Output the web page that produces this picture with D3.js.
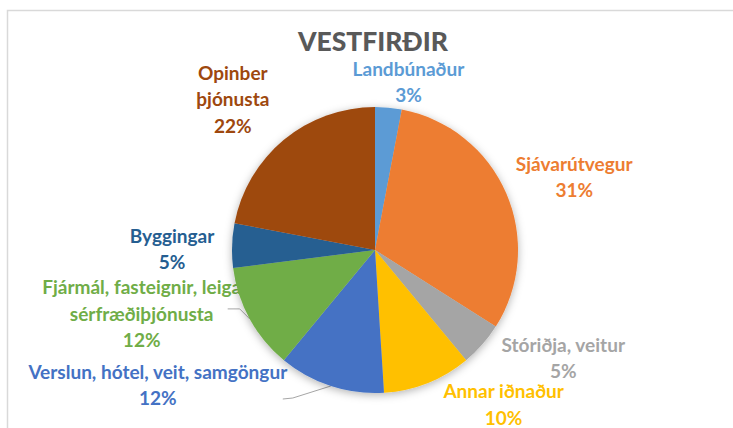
<!DOCTYPE html>
<html>
<head>
<meta charset="utf-8">
<script src="https://cdn.jsdelivr.net/npm/d3@7"></script>
<style>
  body { margin: 0; background: #fff; }
  svg { display: block; }
</style>
</head>
<body>
<svg id="chart" width="733" height="428"></svg>
<script>
// data
var categories = ["Landbúnaður", "Sjávarútvegur", "Stóriðja, veitur", "Annar iðnaður",
  "Verslun, hótel, veit, samgöngur", "Fjármál, fasteignir, leiga, sérfræðiþjónusta",
  "Byggingar", "Opinber þjónusta"];
var shares = [3, 31, 5, 10, 12, 12, 5, 22];
var colors = ["#5B9BD5", "#ED7D31", "#A5A5A5", "#FFC000", "#4472C4", "#70AD47", "#255E91", "#9E480E"];
var labelLines = [
  ["Landbúnaður"], ["Sjávarútvegur"], ["Stóriðja, veitur"], ["Annar iðnaður"],
  ["Verslun, hótel, veit, samgöngur"], ["Fjármál, fasteignir, leiga", "sérfræðiþjónusta"],
  ["Byggingar"], ["Opinber", "þjónusta"]
];
var title = "VESTFIRÐIR";

// label placement, offset from the outer edge of each slice's mid angle
var labelOffset = [[20, -25], [68, -16], [81, 14], [76, 22], [-173, -1], [-108, -5], [-60, 4], [-51, -40]];
var leaders = {4: [[125, 14], [135, 13]], 5: [[86, -5], [98, -5]]};

var svg = d3.select("#chart"),
    cx = 375, cy = 250, r = 143,
    font = "Lato, 'Open Sans', sans-serif";

var defs = svg.append("defs");
var f = defs.append("filter").attr("id", "shadow")
    .attr("x", "-20%").attr("y", "-20%").attr("width", "140%").attr("height", "140%");
f.append("feDropShadow").attr("dx", 0).attr("dy", 2).attr("stdDeviation", 4)
    .attr("flood-color", "#000").attr("flood-opacity", 0.3);

// frame
svg.append("path")
    .attr("d", "M7.5,428V10.5H733")
    .attr("fill", "none")
    .attr("stroke", "#d9d9d9")
    .attr("stroke-width", 1.5);

// size fonts so text widths match the picture
function fitSize(txt, target, base, weight) {
  var t = svg.append("text").style("font", weight + " " + base + "px " + font).text(txt);
  var w = t.node().getComputedTextLength();
  t.remove();
  return base * target / w;
}
var labelSize = fitSize("Verslun, hótel, veit, samgöngur", 259, 16, 700);
var titleSize = fitSize(title, 150, 26, 900);

svg.append("text")
    .attr("x", 373).attr("y", 51)
    .attr("text-anchor", "middle")
    .style("font", "900 " + titleSize + "px " + font)
    .attr("fill", "#595959")
    .text(title);

var pie = d3.pie().sort(null).value(function(d) { return d; });
var arcs = pie(shares);
var arc = d3.arc().innerRadius(0).outerRadius(r);

function edgePoint(d) {
  var a = (d.startAngle + d.endAngle) / 2;
  return [cx + r * Math.sin(a), cy - r * Math.cos(a)];
}

var lh = labelSize * 1.38;
var g = svg.append("g");

arcs.forEach(function(d, i) {
  var p = edgePoint(d),
      lx = p[0] + labelOffset[i][0],
      ly = p[1] + labelOffset[i][1];
  var lines = labelLines[i].concat([d.data + "%"]);
  var t = g.append("text")
      .attr("text-anchor", "middle")
      .style("font", "700 " + labelSize + "px " + font)
      .attr("fill", colors[i]);
  lines.forEach(function(s, k) {
    t.append("tspan")
        .attr("x", lx)
        .attr("y", ly + (k - (lines.length - 1) / 2) * lh)
        .attr("dy", "0.35em")
        .text(s);
  });
  if (leaders[i]) {
    var pts = leaders[i].map(function(o) { return [lx + o[0], ly + o[1]]; }).concat([p]);
    g.append("path")
        .attr("d", d3.line()(pts))
        .attr("fill", "none")
        .attr("stroke", "#a6a6a6")
        .attr("stroke-width", 1);
  }
});

svg.append("g")
    .attr("transform", "translate(" + cx + "," + cy + ")")
    .attr("filter", "url(#shadow)")
  .selectAll("path")
  .data(arcs)
  .enter().append("path")
    .attr("d", arc)
    .attr("fill", function(d, i) { return colors[i]; });
</script>
</body>
</html>
